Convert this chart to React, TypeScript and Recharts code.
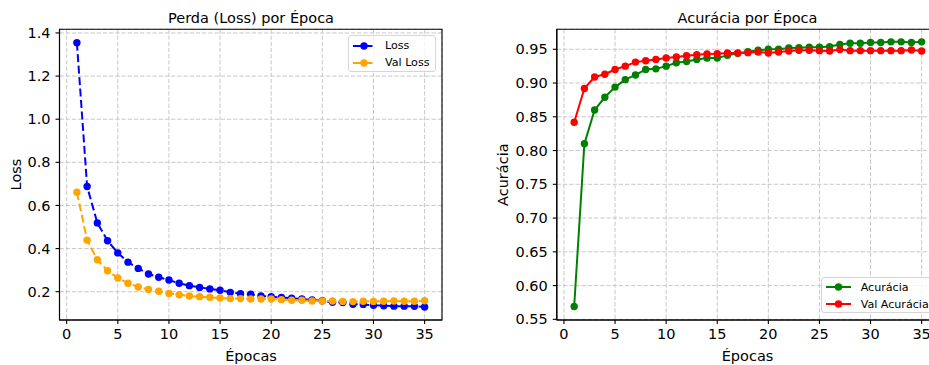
import React from 'react';
import { LineChart, Line, XAxis, YAxis, CartesianGrid, ReferenceArea } from 'recharts';

const epochs = [1, 2, 3, 4, 5, 6, 7, 8, 9, 10, 11, 12, 13, 14, 15, 16, 17, 18, 19, 20, 21, 22, 23, 24, 25, 26, 27, 28, 29, 30, 31, 32, 33, 34, 35];

const loss = [1.355, 0.688, 0.519, 0.436, 0.38, 0.337, 0.308, 0.282, 0.267, 0.254, 0.239, 0.228, 0.22, 0.213, 0.207, 0.197, 0.191, 0.188, 0.18, 0.177, 0.173, 0.17, 0.166, 0.162, 0.158, 0.151, 0.15, 0.142, 0.141, 0.137, 0.135, 0.133, 0.133, 0.132, 0.129];
const valLoss = [0.661, 0.439, 0.348, 0.297, 0.264, 0.239, 0.222, 0.21, 0.202, 0.192, 0.186, 0.18, 0.177, 0.174, 0.171, 0.168, 0.168, 0.166, 0.166, 0.166, 0.163, 0.16, 0.16, 0.157, 0.157, 0.157, 0.155, 0.154, 0.156, 0.155, 0.156, 0.157, 0.156, 0.156, 0.158];

const acc = [0.569, 0.81, 0.86, 0.879, 0.894, 0.905, 0.912, 0.92, 0.921, 0.925, 0.93, 0.932, 0.935, 0.937, 0.937, 0.941, 0.944, 0.9465, 0.9485, 0.95, 0.95, 0.952, 0.9524, 0.953, 0.953, 0.954, 0.957, 0.959, 0.959, 0.96, 0.96, 0.961, 0.961, 0.96, 0.961];
const valAcc = [0.842, 0.892, 0.909, 0.913, 0.92, 0.925, 0.931, 0.933, 0.935, 0.937, 0.9386, 0.9405, 0.942, 0.943, 0.9435, 0.9445, 0.9445, 0.945, 0.946, 0.9445, 0.946, 0.9475, 0.9485, 0.9485, 0.948, 0.9475, 0.9495, 0.948, 0.948, 0.948, 0.948, 0.948, 0.948, 0.949, 0.9475];

const xTicks = [0, 5, 10, 15, 20, 25, 30, 35];
const lossTicks = [0.2, 0.4, 0.6, 0.8, 1.0, 1.2, 1.4];
const accTicks = [0.55, 0.6, 0.65, 0.7, 0.75, 0.8, 0.85, 0.9, 0.95];

const FONT = '"DejaVu Sans", sans-serif';
const X_DOMAIN: [number, number] = [-0.7, 36.7];

const rows = epochs.map((e, i) => ({
    epoch: e,
    loss: loss[i],
    valLoss: valLoss[i],
    acc: acc[i],
    valAcc: valAcc[i],
}));

type Series = { key: string; name: string; color: string; dashed?: boolean };

const lossSeries: Series[] = [
    { key: 'loss', name: 'Loss', color: '#0000ff', dashed: true },
    { key: 'valLoss', name: 'Val Loss', color: '#ffa500', dashed: true },
];
const accSeries: Series[] = [
    { key: 'acc', name: 'Acurácia', color: '#008000' },
    { key: 'valAcc', name: 'Val Acurácia', color: '#ff0000' },
];

const tickStyle = { fontSize: 14.5, fill: '#000', fontFamily: FONT };

const Panel: React.FC<{
    series: Series[];
    yDomain: [number, number];
    yTicks: number[];
    digits: number;
    width: number;
    marginLeft: number;
    marginRight: number;
}> = ({ series, yDomain, yTicks, digits, width, marginLeft, marginRight }) => (
    <LineChart
        width={width}
        height={365}
        data={rows}
        margin={{ top: 29.3, right: marginRight, bottom: 15, left: marginLeft }}
    >
        <CartesianGrid stroke="#c8c8c8" strokeDasharray="4.3 1.9" strokeWidth={1} />
        <XAxis
            type="number"
            dataKey="epoch"
            domain={X_DOMAIN}
            ticks={xTicks}
            interval={0}
            allowDataOverflow
            height={30}
            tickSize={4}
            tickMargin={5}
            tick={tickStyle}
            axisLine={{ stroke: '#000', strokeWidth: 1.1 }}
            tickLine={{ stroke: '#000', strokeWidth: 1.1 }}
        />
        <YAxis
            type="number"
            domain={yDomain}
            ticks={yTicks}
            interval={0}
            allowDataOverflow
            width={50}
            tickSize={4}
            tickMargin={5}
            tick={tickStyle}
            tickFormatter={(v: number) => v.toFixed(digits)}
            axisLine={{ stroke: '#000', strokeWidth: 1.1 }}
            tickLine={{ stroke: '#000', strokeWidth: 1.1 }}
        />
        <ReferenceArea
            x1={X_DOMAIN[0]}
            x2={X_DOMAIN[1]}
            y1={yDomain[0]}
            y2={yDomain[1]}
            fill="none"
            fillOpacity={0}
            stroke="#000"
            strokeWidth={1.1}
            ifOverflow="visible"
        />
        {series.map((s) => (
            <Line
                key={s.key}
                type="linear"
                dataKey={s.key}
                name={s.name}
                stroke={s.color}
                strokeWidth={2}
                strokeDasharray={s.dashed ? '8 3.5' : undefined}
                dot={{ r: 3.7, fill: s.color, stroke: s.color, strokeWidth: 0 }}
                activeDot={false}
                isAnimationActive={false}
            />
        ))}
    </LineChart>
);

const LegendBox: React.FC<{ series: Series[]; left: number; top: number; width: number; lineLen: number }> = ({ series, left, top, width, lineLen }) => (
    <div
        style={{
            position: 'absolute',
            left,
            top,
            width,
            height: 36.6,
            boxSizing: 'border-box',
            border: '1px solid #d6d6d6',
            borderRadius: 3,
            background: 'rgba(255,255,255,0.8)',
            fontFamily: FONT,
            fontSize: 11.1,
            color: '#000',
            paddingTop: 1,
        }}
    >
        {series.map((s) => (
            <div key={s.key} style={{ display: 'flex', alignItems: 'center', height: 17, paddingLeft: 4 }}>
                <svg width={lineLen} height={10} style={{ marginRight: 10, flex: 'none' }}>
                    <line
                        x1={0}
                        y1={5}
                        x2={lineLen}
                        y2={5}
                        stroke={s.color}
                        strokeWidth={2}
                        strokeDasharray={s.dashed ? '8 3.5' : undefined}
                    />
                    <circle cx={lineLen / 2} cy={5} r={3.7} fill={s.color} />
                </svg>
                <span style={{ whiteSpace: 'nowrap' }}>{s.name}</span>
            </div>
        ))}
    </div>
);

export default function App() {
    return (
        <div style={{ position: 'absolute', left: 0, top: 0, width: 929, height: 365, overflow: 'hidden', background: '#fff' }}>
            <div style={{ position: 'absolute', left: 0, top: 0 }}>
                <Panel series={lossSeries} yDomain={[0.0687, 1.417]} yTicks={lossTicks} digits={1} width={460} marginLeft={9.5} marginRight={18} />
            </div>
            <div style={{ position: 'absolute', left: 460, top: 0 }}>
                <Panel series={accSeries} yDomain={[0.549, 0.9796]} yTicks={accTicks} digits={2} width={479} marginLeft={46.8} marginRight={0} />
            </div>
            <svg width={929} height={365} style={{ position: 'absolute', left: 0, top: 0, pointerEvents: 'none' }} fontFamily={FONT} fontSize={14.5} fill="#000">
                <text x={251} y={23} textAnchor="middle">Perda (Loss) por Época</text>
                <text x={747.5} y={23} textAnchor="middle">Acurácia por Época</text>
                <text x={251} y={361} textAnchor="middle">Épocas</text>
                <text x={747.5} y={361} textAnchor="middle">Épocas</text>
                <text transform="translate(20.5,174.5) rotate(-90)" textAnchor="middle">Loss</text>
                <text transform="translate(508,174.7) rotate(-90)" textAnchor="middle">Acurácia</text>
            </svg>
            <LegendBox series={lossSeries} left={348} top={35} width={88} lineLen={22} />
            <LegendBox series={accSeries} left={820.7} top={276.7} width={112} lineLen={25} />
        </div>
    );
}
